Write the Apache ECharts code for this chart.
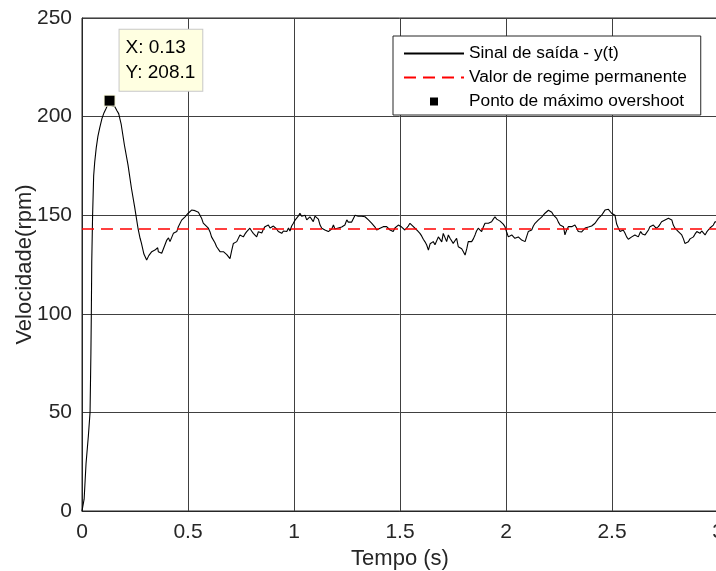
<!DOCTYPE html>
<html>
<head>
<meta charset="utf-8">
<script src="https://cdn.jsdelivr.net/npm/echarts@6/dist/echarts.min.js"></script>
<style>
html,body{margin:0;padding:0;background:#fff;}
#chart{width:716px;height:571px;}
</style>
</head>
<body>
<div id="chart"></div>
<script>
// ---- data ----
const time = [0,0.005,0.01,0.019,0.03,0.038,0.042,0.044,0.046,0.05,0.055,0.06,0.067,0.075,0.083,0.094,0.104,0.113,0.12,0.13,0.14,0.146,0.155,0.165,0.173,0.185,0.2,0.217,0.233,0.249,0.264,0.274,0.28,0.292,0.305,0.315,0.329,0.336,0.344,0.357,0.36,0.368,0.376,0.384,0.4,0.408,0.415,0.423,0.431,0.439,0.447,0.454,0.47,0.486,0.494,0.501,0.509,0.517,0.525,0.533,0.541,0.549,0.557,0.564,0.572,0.58,0.596,0.604,0.611,0.619,0.627,0.635,0.643,0.651,0.659,0.667,0.675,0.683,0.69,0.698,0.706,0.714,0.722,0.73,0.737,0.745,0.753,0.761,0.769,0.777,0.784,0.792,0.8,0.808,0.816,0.824,0.832,0.84,0.848,0.856,0.863,0.871,0.879,0.887,0.895,0.903,0.91,0.918,0.926,0.934,0.942,0.95,0.958,0.966,0.974,0.981,0.989,0.997,1.005,1.012,1.02,1.028,1.036,1.044,1.052,1.06,1.067,1.075,1.083,1.091,1.099,1.107,1.115,1.123,1.131,1.138,1.146,1.154,1.162,1.17,1.178,1.186,1.193,1.201,1.209,1.217,1.225,1.233,1.24,1.249,1.256,1.264,1.272,1.28,1.288,1.296,1.303,1.311,1.319,1.327,1.335,1.343,1.351,1.358,1.366,1.374,1.382,1.39,1.398,1.406,1.414,1.421,1.429,1.437,1.445,1.453,1.46,1.468,1.476,1.484,1.492,1.5,1.508,1.516,1.523,1.531,1.539,1.547,1.555,1.563,1.571,1.579,1.587,1.594,1.602,1.61,1.618,1.626,1.634,1.642,1.649,1.657,1.665,1.673,1.681,1.689,1.697,1.704,1.712,1.72,1.728,1.736,1.744,1.751,1.759,1.767,1.775,1.783,1.791,1.799,1.807,1.815,1.822,1.83,1.838,1.846,1.854,1.861,1.869,1.877,1.885,1.893,1.901,1.909,1.917,1.925,1.932,1.94,1.948,1.956,1.964,1.972,1.98,1.987,1.995,2.003,2.011,2.019,2.027,2.034,2.042,2.05,2.058,2.066,2.074,2.082,2.09,2.097,2.105,2.113,2.121,2.129,2.137,2.145,2.153,2.16,2.168,2.176,2.184,2.192,2.2,2.208,2.216,2.224,2.231,2.239,2.247,2.255,2.263,2.271,2.278,2.286,2.294,2.302,2.31,2.318,2.325,2.333,2.341,2.349,2.357,2.365,2.373,2.381,2.389,2.396,2.404,2.412,2.42,2.428,2.436,2.443,2.451,2.459,2.467,2.475,2.483,2.491,2.498,2.506,2.514,2.522,2.53,2.538,2.546,2.553,2.561,2.569,2.577,2.582,2.593,2.6,2.608,2.616,2.624,2.632,2.635,2.643,2.648,2.656,2.664,2.672,2.679,2.687,2.695,2.703,2.708,2.719,2.727,2.734,2.742,2.75,2.758,2.766,2.774,2.782,2.789,2.797,2.805,2.813,2.821,2.829,2.837,2.844,2.852,2.86,2.868,2.876,2.884,2.892,2.9,2.907,2.915,2.923,2.931,2.939,2.947,2.954,2.962,2.97,2.978,2.986,2.994,3.0];
const velocity = [0,0.5,6,24,38,50,80,100,126,150,170,177,184,190,194,199,202,204,205,208.1,205.5,204.5,205,203,201.5,196,185.6,175.5,163.8,153.7,143.5,138.3,136,130.3,127.3,129.5,131.5,131.5,132.3,133.5,131.5,131.5,130.7,131,137.4,138.5,136.6,137.4,140.8,141.6,141.7,144,147.5,149.2,150,151,150.5,152.6,151.8,152.3,152.6,151.5,151.2,148.5,146,145,143.4,141.5,139,138.3,136,134,133.2,131.5,130.7,131.5,132.3,130,129.5,128,132,135.7,135.5,136.6,135.7,140,139,139,140.5,141.7,141,143.4,142,140.8,140.5,139,141.6,142.5,141,143,144.2,143.5,145,143.5,142.5,144.5,145,143,141.7,141.5,140.8,142,141.5,141.7,143.5,142,144.5,145.9,147.5,148.4,149.5,151,149.5,149.2,150,147.6,148.5,149.2,148,146.7,149.5,149.2,148,145,143.4,143.4,142.5,143.4,141.7,140.8,143,145,143,142,143.5,144.2,144,145,145,147.6,146.5,145.9,146.5,146.7,150,150,149.5,150,149.5,150,149.2,149.2,147.6,146.7,146,145.5,144,142.5,143.5,143.4,144.2,144.2,144,144.2,143.5,142.5,142,141.7,143.5,144.2,145,145,144,143.5,142.5,142,144.5,145.9,145.9,144.2,143.5,142.5,141.5,140.8,139.5,137.8,136.5,134.9,132.3,135.5,136,136.6,135,134,139,139,136.5,140.8,140.8,136.6,140,138.3,137.4,135.7,136.6,138.3,134,134,133,131.5,129.8,133,136.6,137,136.6,138,140,142,143.4,142.5,141.7,144,145.9,145.5,145.9,146,146.7,148,149.2,148,147.6,147,146.7,145.5,144.2,141.5,139,139.5,140,139,138.3,139,139,138,137.4,137.5,136.6,139,141.7,142,142.5,144.5,145.9,146.5,147.6,148.5,149,150,151,151.8,152.5,153.5,151.5,150,149.5,148.4,146.5,145,145,144.2,140,142.5,144.2,144.2,144.2,145,145,143.5,141.7,140.8,141.5,142.5,143.5,144.2,144,145,144.5,145,145.9,146.5,148.4,149,150,151,152.6,152.6,153,152,151,150.5,150,145.5,143.5,141.7,142,142.5,141,139,137.8,137.4,139,139,140,139.5,139,139.5,141.7,140.5,140,140,140.8,142.5,144.2,144.5,145,144.5,143.4,144.2,145.5,146.7,146.5,147.6,147.5,148.4,147.5,147.6,145,143.4,142.5,141.7,141,140,138,135.7,134.9,136.5,138,138.5,139,140.5,141.7,141,140.8,142,142.5,140,141.5,142.5,143.5,144.2,145,146.7,146.5,146.5];
const steadyValue = 143;
const peakTime = 0.13;
const peakValue = 208.1;
const xTicks = [0, 0.5, 1, 1.5, 2, 2.5, 3];
const yTicks = [0, 50, 100, 150, 200, 250];
const seriesNames = ['Sinal de saída - y(t)', 'Valor de regime permanente', 'Ponto de máximo overshoot'];
const axisNames = { x: 'Tempo (s)', y: 'Velocidade(rpm)' };

const signalData = time.map((t, i) => [t, velocity[i]]);
const steadyData = [[xTicks[0], steadyValue], [xTicks[xTicks.length - 1], steadyValue]];

const FONT = 'Liberation Sans, Arial, Helvetica, sans-serif';
const chart = echarts.init(document.getElementById('chart'), null, { renderer: 'canvas' });
chart.setOption({
  animation: false,
  backgroundColor: '#ffffff',
  grid: { left: 82, right: -2, top: 18, bottom: 60, containLabel: false, outerBoundsMode: 'none',
          show: true, borderColor: '#262626', borderWidth: 1, backgroundColor: 'transparent' },
  xAxis: {
    type: 'value', min: xTicks[0], max: xTicks[xTicks.length - 1], interval: 0.5,
    name: axisNames.x, nameLocation: 'middle', nameGap: 37, nameMoveOverlap: false,
    nameTextStyle: { fontFamily: FONT, fontSize: 22, color: '#262626' },
    axisLine: { show: true, lineStyle: { color: '#262626', width: 1 } },
    axisTick: { show: false },
    axisLabel: { fontFamily: FONT, fontSize: 21, color: '#262626', margin: 11, hideOverlap: false },
    splitLine: { show: true, lineStyle: { color: '#404040', width: 1 } }
  },
  yAxis: {
    type: 'value', min: yTicks[0], max: yTicks[yTicks.length - 1], interval: 50,
    name: axisNames.y, nameLocation: 'middle', nameGap: 46, nameMoveOverlap: false,
    nameTextStyle: { fontFamily: FONT, fontSize: 22, color: '#262626' },
    axisLine: { show: true, lineStyle: { color: '#262626', width: 1 } },
    axisTick: { show: false },
    axisLabel: { fontFamily: FONT, fontSize: 21, color: '#262626', margin: 10 },
    splitLine: { show: true, lineStyle: { color: '#404040', width: 1 } }
  },
  legend: {
    orient: 'vertical', left: 393, top: 36,
    itemWidth: 60, itemHeight: 8, itemGap: 7,
    padding: [9, 14, 5, 10],
    backgroundColor: '#ffffff', borderColor: '#262626', borderWidth: 1,
    textStyle: { fontFamily: FONT, fontSize: 17.3, color: '#000000' },
    symbolKeepAspect: true,
    data: [
      { name: seriesNames[0], itemStyle: { opacity: 0 } },
      { name: seriesNames[1], itemStyle: { opacity: 0 } },
      { name: seriesNames[2], icon: 'path://M0,0h8v8h-8z', itemStyle: { color: '#000000', borderWidth: 0 } }
    ]
  },
  series: [
    {
      name: seriesNames[0], type: 'line', data: signalData,
      symbol: 'none', showSymbol: false, smooth: false,
      lineStyle: { color: '#000000', width: 1.1 }, itemStyle: { color: '#000000' }, z: 3
    },
    {
      name: seriesNames[1], type: 'line', data: steadyData,
      symbol: 'none', showSymbol: false,
      lineStyle: { color: '#ff0000', width: 1.5, type: [12, 7] }, itemStyle: { color: '#ff0000' }, z: 4
    },
    {
      name: seriesNames[2], type: 'scatter', data: [[peakTime, peakValue]],
      symbol: 'rect', symbolSize: 11,
      itemStyle: { color: '#000000', borderColor: '#ffffe1', borderWidth: 1, opacity: 1 }, z: 6,
      emphasis: { disabled: true },
      label: {
        show: true, position: [16, -65], align: 'left', verticalAlign: 'top',
        formatter: 'X: ' + peakTime + '\nY: ' + peakValue.toFixed(1),
        fontFamily: FONT, fontSize: 19, color: '#000000', lineHeight: 25,
        backgroundColor: '#ffffe1', borderColor: '#c8c8c8', borderWidth: 1,
        padding: [6, 7, 5, 6]
      }
    }
  ]
});
</script>
</body>
</html>
